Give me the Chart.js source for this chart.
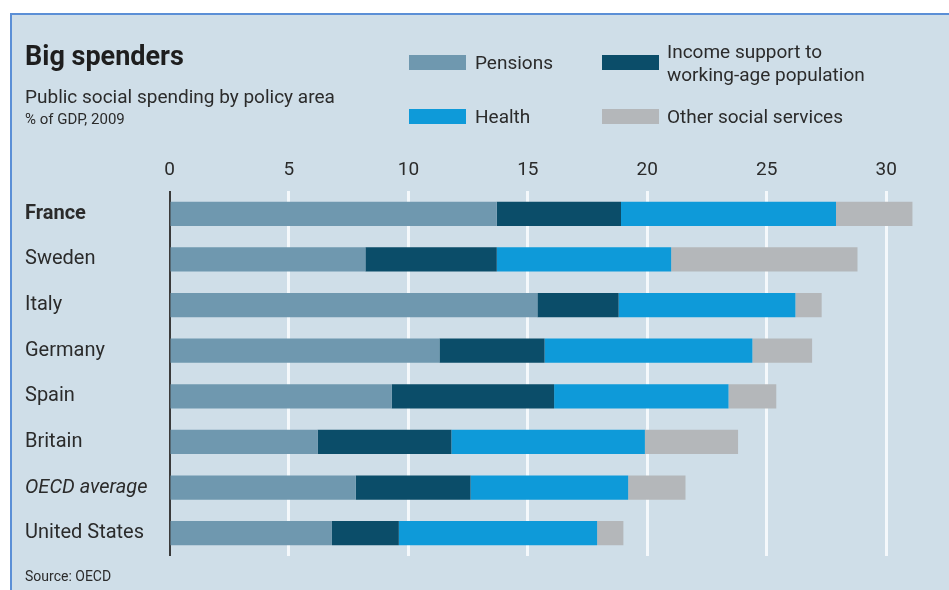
<!DOCTYPE html>
<html>
<head>
<meta charset="utf-8">
<script src="https://cdn.jsdelivr.net/npm/chart.js@4"></script>
<style>
  html, body { margin: 0; padding: 0; background: #fff; }
  #wrap { position: relative; width: 949px; height: 590px; overflow: hidden; font-family: Roboto, sans-serif; color: #2b2b2b; }
  #panel { position: absolute; left: 10px; top: 13px; right: 0; bottom: 0; background: #cfdee8; border-left: 2px solid #5b8fd6; border-top: 2px solid #5b8fd6; }
  canvas { position: absolute; left: 0; top: 0; }
  .txt { position: absolute; line-height: 1; white-space: nowrap; }
  .sw { position: absolute; width: 57px; height: 15px; }
</style>
</head>
<body>
<div id="wrap">
  <div id="panel"></div>
  <canvas id="myBarChart" width="949" height="590"></canvas>
  <div class="txt" style="left:25px;top:43px;font-size:27px;font-weight:bold;color:#1e1e1e;">Big spenders</div>
  <div class="txt" style="left:25px;top:87px;font-size:19px;">Public social spending by policy area</div>
  <div class="txt" style="left:25px;top:112px;font-size:15px;">% of GDP, 2009</div>
  <div class="txt" style="left:25px;top:569px;font-size:14px;">Source: OECD</div>

  <div class="sw" style="left:409px;top:55px;background:#6f98af;"></div>
  <div class="txt" style="left:475px;top:53px;font-size:19px;">Pensions</div>
  <div class="sw" style="left:602px;top:55px;background:#0b4d69;"></div>
  <div class="txt" style="left:667px;top:40px;font-size:19px;line-height:23px;">Income support to<br>working-age population</div>
  <div class="sw" style="left:409px;top:109px;background:#0e9ad9;"></div>
  <div class="txt" style="left:475px;top:107px;font-size:19px;">Health</div>
  <div class="sw" style="left:602px;top:109px;background:#b4b7ba;"></div>
  <div class="txt" style="left:667px;top:107px;font-size:19px;">Other social services</div>
</div>
<script>
const countries = ['France', 'Sweden', 'Italy', 'Germany', 'Spain', 'Britain', 'OECD average', 'United States'];
const pensions = [13.7, 8.2, 15.4, 11.3, 9.3, 6.2, 7.8, 6.8];
const incomeSupport = [5.2, 5.5, 3.4, 4.4, 6.8, 5.6, 4.8, 2.8];
const health = [9.0, 7.3, 7.4, 8.7, 7.3, 8.1, 6.6, 8.3];
const otherServices = [3.2, 7.8, 1.1, 2.5, 2.0, 3.9, 2.4, 1.1];
const xTicks = [0, 5, 10, 15, 20, 25, 30];

const barData = {
    labels: countries,
    datasets: [
      { label: 'Pensions', data: pensions, backgroundColor: '#6f98af' },
      { label: 'Income support to working-age population', data: incomeSupport, backgroundColor: '#0b4d69' },
      { label: 'Health', data: health, backgroundColor: '#0e9ad9' },
      { label: 'Other social services', data: otherServices, backgroundColor: '#b4b7ba' }
    ]
  };

const barConfig = {
    type: 'bar',
    data: barData,
    options: {
      indexAxis: 'y',
      responsive: false,
      animation: false,
      barPercentage: 0.53,
      categoryPercentage: 1,
      layout: {
        padding: { left: 25, top: 151, right: 27, bottom: 34 }
      },
      plugins: {
        legend: { display: false },
        tooltip: { enabled: false }
      },
      scales: {
        x: {
          position: 'top',
          stacked: true,
          min: 0,
          max: 31.5,
          afterFit: (scale) => { scale.height = 40; },
          afterBuildTicks: (scale) => { scale.ticks = xTicks.map(v => ({ value: v })); },
          border: { display: false },
          grid: {
            color: (ctx) => ctx.tick && ctx.tick.value === 0 ? '#3a3a3a' : '#f4f8fb',
            lineWidth: (ctx) => ctx.tick && ctx.tick.value === 0 ? 2 : 3,
            tickLength: 8,
            tickColor: 'rgba(0,0,0,0)'
          },
          ticks: {
            color: '#2b2b2b',
            padding: 1,
            font: { family: 'Roboto', size: 19 }
          }
        },
        y: {
          stacked: true,
          afterFit: (scale) => { scale.width = 144.5; },
          border: { display: false },
          grid: { display: false },
          ticks: {
            crossAlign: 'far',
            color: '#2b2b2b',
            font: (ctx) => ({
              family: 'Roboto',
              size: 20,
              weight: countries[ctx.index] === 'France' ? 'bold' : 'normal',
              style: countries[ctx.index] === 'OECD average' ? 'italic' : 'normal'
            })
          }
        }
      }
    }
  };

const myBarChart = new Chart(
    document.getElementById('myBarChart'),
    barConfig
  );
</script>
</body>
</html>
